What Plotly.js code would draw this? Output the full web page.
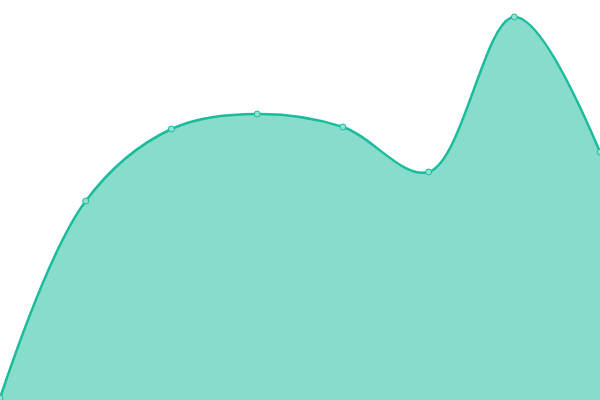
<!DOCTYPE html>
<html>
<head>
<meta charset="utf-8">
<script src="https://cdn.plot.ly/plotly-3.0.1.min.js"></script>
<style>html,body{margin:0;padding:0;background:#fff;}#chart{width:600px;height:400px;}</style>
</head>
<body>
<div id="chart"></div>
<script>
const categories = [0, 1, 2, 3, 4, 5, 6, 7];
const values = [0.5, 49.75, 67.75, 71.5, 68.25, 57, 95.75, 62];

Plotly.newPlot('chart', [{
  x: categories,
  y: values,
  type: 'scatter',
  mode: 'lines+markers',
  fill: 'tozeroy',
  fillcolor: 'rgba(26,188,156,0.52)',
  line: {shape: 'spline', smoothing: 1, color: '#1abc9c', width: 2.5},
  marker: {size: 6, color: '#8ee0d0', line: {color: '#1abc9c', width: 1}},
  cliponaxis: false,
  hoverinfo: 'none'
}], {
  width: 600, height: 400,
  margin: {l: 0, r: 0, t: 0, b: 0},
  paper_bgcolor: '#fff', plot_bgcolor: '#fff',
  showlegend: false,
  xaxis: {range: [0, 7], visible: false, fixedrange: true},
  yaxis: {range: [0, 100], visible: false, fixedrange: true}
}, {displayModeBar: false, staticPlot: true});
</script>
</body>
</html>
